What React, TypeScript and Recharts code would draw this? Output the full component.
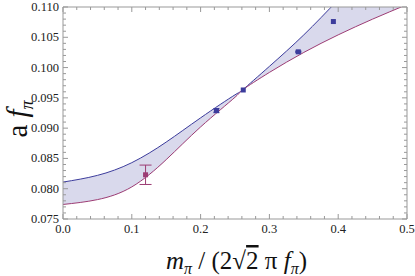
import { ComposedChart, Area, Line, Scatter, XAxis, YAxis, ErrorBar, Label } from "recharts";

// band edges
const curveX = [0, 0.05, 0.1, 0.15, 0.2, 0.25, 0.262, 0.3, 0.35, 0.4, 0.45, 0.5];
const blueCurve = [0.0811, 0.0822, 0.0843, 0.0877, 0.0917, 0.0955, 0.0964, 0.1002, 0.1054, 0.1112, 0.1172, 0.1236];
const purpleCurve = [0.0774, 0.0782, 0.0803, 0.0848, 0.0902, 0.0951, 0.0964, 0.0992, 0.1025, 0.1054, 0.108, 0.1104];

// lattice points
const purpleX = [0.12];
const purpleY = [0.0823];
const purpleErr = [0.0016];
const blueX = [0.223, 0.262, 0.342, 0.393];
const blueY = [0.0929, 0.0963, 0.1026, 0.1076];
const blueErr = [0.0003, 0, 0.0001, 0];

const xMajor = [0, 0.1, 0.2, 0.3, 0.4, 0.5];
const yMajor = [0.075, 0.08, 0.085, 0.09, 0.095, 0.1, 0.105, 0.11];

const xTicks: number[] = [];
for (let i = 0; i <= 25; i++) xTicks.push(+(i * 0.02).toFixed(2));
const yTicks: number[] = [];
for (let i = 0; i <= 35; i++) yTicks.push(+(0.075 + i * 0.001).toFixed(3));

const isMajor = (v: number, list: number[]) => list.some((m) => Math.abs(m - v) < 1e-9);

const curveData = curveX.map((x, i) => ({
    x,
    blue: blueCurve[i],
    purple: purpleCurve[i],
    band: [purpleCurve[i], blueCurve[i]],
}));
const purplePts = purpleX.map((x, i) => ({ x, y: purpleY[i], err: purpleErr[i] }));
const bluePts = blueX.map((x, i) => ({ x, y: blueY[i], err: blueErr[i] }));

const frame = "#999999";
const blueColor = "#3c3c9c";
const purpleColor = "#9c3c74";
const fillColor = "#d9d9ec";
const font = "'Liberation Serif', 'Times New Roman', serif";
const serif = { fontFamily: font };

const BottomTick = (props: any) => {
    const { x, y, payload } = props;
    const major = isMajor(payload.value, xMajor);
    return (
        <g>
            <line x1={x} x2={x} y1={y} y2={y - (major ? 5 : 3)} stroke={frame} />
            {major && (
                <text x={x} y={y + 14} textAnchor="middle" fontSize={12.5} style={serif} fill="#222">
                    {payload.value.toFixed(1)}
                </text>
            )}
        </g>
    );
};

const TopTick = (props: any) => {
    const { x, y, payload } = props;
    const major = isMajor(payload.value, xMajor);
    return <line x1={x} x2={x} y1={y} y2={y + (major ? 5 : 3)} stroke={frame} />;
};

const LeftTick = (props: any) => {
    const { x, y, payload } = props;
    const major = isMajor(payload.value, yMajor);
    return (
        <g>
            <line x1={x} x2={x + (major ? 5 : 3)} y1={y} y2={y} stroke={frame} />
            {major && (
                <text x={x - 4} y={y + 4} textAnchor="end" fontSize={12.5} style={serif} fill="#222">
                    {payload.value.toFixed(3)}
                </text>
            )}
        </g>
    );
};

const RightTick = (props: any) => {
    const { x, y, payload } = props;
    const major = isMajor(payload.value, yMajor);
    return <line x1={x} x2={x - (major ? 5 : 3)} y1={y} y2={y} stroke={frame} />;
};

const SquareDot = (color: string) => (props: any) => {
    const { cx, cy } = props;
    if (cx == null || cy == null) return null;
    return <rect x={cx - 2.5} y={cy - 2.5} width={5} height={5} fill={color} />;
};

const XLabel = (props: any) => {
    const { viewBox } = props;
    return (
        <text x={viewBox.x + 103} y={viewBox.y + 50} textAnchor="start" fontSize={25} style={serif} fill="#111">
            <tspan fontStyle="italic">m</tspan>
            <tspan fontSize={16} fontStyle="italic" dy={5}>π</tspan>
            <tspan dy={-5}> / (2</tspan>
            <tspan>√</tspan>
            <tspan style={{ textDecoration: "overline" }}>2</tspan>
            <tspan> π </tspan>
            <tspan fontStyle="italic">f</tspan>
            <tspan fontSize={16} fontStyle="italic" dy={5}>π</tspan>
            <tspan dy={-5}>)</tspan>
        </text>
    );
};

const YLabel = (props: any) => {
    const { viewBox } = props;
    const cx = 27;
    const cy = viewBox.y + viewBox.height / 2 + 6;
    return (
        <text x={cx} y={cy} transform={`rotate(-90, ${cx}, ${cy})`} textAnchor="middle" fontSize={29} style={serif} fill="#111">
            <tspan>a </tspan>
            <tspan fontStyle="italic">f</tspan>
            <tspan fontSize={18} fontStyle="italic" dy={6}>π</tspan>
        </text>
    );
};

export default function App() {
    return (
        <div style={{ position: "absolute", left: 0, top: 0, background: "#fff" }}>
            <ComposedChart width={415} height={276} data={curveData} margin={{ top: 0, right: 0, bottom: 0, left: 0 }}>
                <XAxis
                    dataKey="x"
                    type="number"
                    domain={[0, 0.5]}
                    ticks={xTicks}
                    interval={0}
                    height={57}
                    tickSize={0}
                    tickMargin={0}
                    tickLine={false}
                    tick={<BottomTick />}
                    axisLine={{ stroke: frame }}
                    allowDataOverflow
                >
                    <Label content={<XLabel />} />
                </XAxis>
                <XAxis
                    xAxisId="top"
                    dataKey="x"
                    type="number"
                    orientation="top"
                    domain={[0, 0.5]}
                    ticks={xTicks}
                    interval={0}
                    height={7}
                    tickSize={0}
                    tickMargin={0}
                    tickLine={false}
                    tick={<TopTick />}
                    axisLine={{ stroke: frame }}
                    allowDataOverflow
                />
                <YAxis
                    type="number"
                    domain={[0.075, 0.11]}
                    ticks={yTicks}
                    interval={0}
                    width={63}
                    tickSize={0}
                    tickMargin={0}
                    tickLine={false}
                    tick={<LeftTick />}
                    axisLine={{ stroke: frame }}
                    allowDataOverflow
                >
                    <Label content={<YLabel />} />
                </YAxis>
                <YAxis
                    yAxisId="right"
                    type="number"
                    orientation="right"
                    domain={[0.075, 0.11]}
                    ticks={yTicks}
                    interval={0}
                    width={8}
                    tickSize={0}
                    tickMargin={0}
                    tickLine={false}
                    tick={<RightTick />}
                    axisLine={{ stroke: frame }}
                    allowDataOverflow
                />
                <Area
                    dataKey="band"
                    type="natural"
                    stroke="none"
                    fill={fillColor}
                    fillOpacity={1}
                    isAnimationActive={false}
                    activeDot={false}
                />
                <Line dataKey="blue" type="natural" stroke={blueColor} strokeWidth={1} dot={false} activeDot={false} isAnimationActive={false} />
                <Line dataKey="purple" type="natural" stroke={purpleColor} strokeWidth={1} dot={false} activeDot={false} isAnimationActive={false} />
                <Scatter data={purplePts} dataKey="y" shape={SquareDot(purpleColor)} isAnimationActive={false}>
                    <ErrorBar dataKey="err" direction="y" width={6} stroke={purpleColor} strokeWidth={1} isAnimationActive={false} />
                </Scatter>
                <Scatter data={bluePts} dataKey="y" shape={SquareDot(blueColor)} isAnimationActive={false}>
                    <ErrorBar dataKey="err" direction="y" width={3} stroke={blueColor} strokeWidth={1.5} isAnimationActive={false} />
                </Scatter>
            </ComposedChart>
        </div>
    );
}
